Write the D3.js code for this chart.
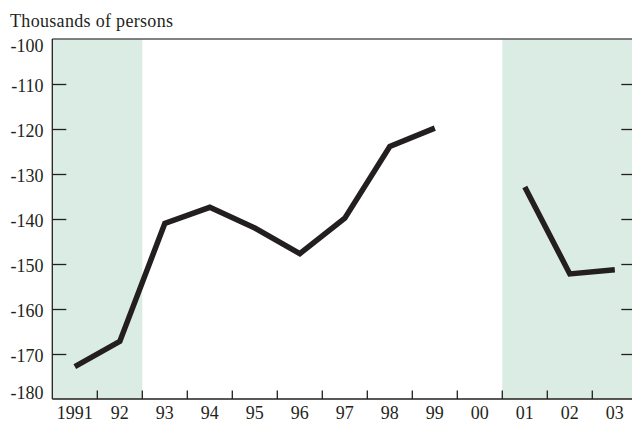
<!DOCTYPE html>
<html>
<head>
<meta charset="utf-8">
<script src="https://cdn.jsdelivr.net/npm/d3@7"></script>
<style>
  body { margin: 0; background: #fff; overflow: hidden; }
  svg { display: block; font-family: "Liberation Serif", "DejaVu Serif", serif; }
  .lbl { font-size: 18px; fill: #231f20; }
</style>
</head>
<body>
<div id="chart"></div>
<script>
// years on the x axis, and how they are labelled
const years = [1991, 1992, 1993, 1994, 1995, 1996, 1997, 1998, 1999, 2000, 2001, 2002, 2003]
const yearLabels = ['1991', '92', '93', '94', '95', '96', '97', '98', '99', '00', '01', '02', '03']
// thousands of persons, null = no value
const values = [-172.8, -167.2, -141, -137.4, -142, -147.7, -139.8, -123.9, -119.8, null, -132.9, -152.2, -151.3]
const yTicks = [-100, -110, -120, -130, -140, -150, -160, -170, -180]
// shaded periods [first year, last year]
const shaded = [[1991, 1992], [2001, 2003]]

const width = 632, height = 423
const margin = { top: 39, left: 52.3, bottom: 24 }
const bandW = 45

const svg = d3.select('#chart')
    .append('svg')
    .attr('width', width)
    .attr('height', height)

const x = d3.scaleBand()
    .domain(years)
    .range([margin.left, margin.left + bandW * years.length])
const y = d3.scaleLinear()
    .domain([-180, -100])
    .range([height - margin.bottom, margin.top])

const x0 = x.range()[0], x1 = x.range()[1]
const yTop = y(-100), yBot = y(-180)

// shaded bands
svg.append('g')
    .selectAll('rect')
    .data(shaded)
    .enter().append('rect')
    .attr('x', d => x(d[0]))
    .attr('width', d => x(d[1]) + x.bandwidth() - x(d[0]))
    .attr('y', yTop)
    .attr('height', yBot - yTop)
    .attr('fill', '#dbece5')

// top border
svg.append('line')
    .attr('x1', x0).attr('x2', width)
    .attr('y1', yTop).attr('y2', yTop)
    .attr('stroke', '#58595b')
    .attr('stroke-width', 1.6)

// left axis with inward ticks
const left = svg.append('g')
    .attr('transform', 'translate(' + x0 + ',0)')
    .call(d3.axisRight(y).tickValues(yTicks.slice(1, -1)).tickSize(14).tickFormat(''))
left.select('.domain').remove()
left.selectAll('line').attr('stroke', '#231f20').attr('stroke-width', 1.3)
svg.append('line')
    .attr('x1', x0).attr('x2', x0)
    .attr('y1', yTop).attr('y2', yBot)
    .attr('stroke', '#231f20')
    .attr('stroke-width', 1.3)

// right side ticks
const right = svg.append('g')
    .attr('transform', 'translate(' + (x1 - 1) + ',0)')
    .call(d3.axisLeft(y).tickValues(yTicks.slice(1, -1)).tickSize(15).tickFormat(''))
right.select('.domain').remove()
right.selectAll('line').attr('stroke', '#231f20').attr('stroke-width', 1.3)

// y labels (end ones pulled inward)
svg.append('g')
    .selectAll('text')
    .data(yTicks)
    .enter().append('text')
    .attr('class', 'lbl')
    .attr('x', 43.5)
    .attr('y', (d, i) => y(d) + (i === 0 ? 13 : i === yTicks.length - 1 ? -0.5 : 8))
    .attr('text-anchor', 'end')
    .text(d => '-' + Math.abs(d))

// bottom axis, ticks at year boundaries
svg.append('line')
    .attr('x1', x0).attr('x2', width)
    .attr('y1', yBot).attr('y2', yBot)
    .attr('stroke', '#231f20')
    .attr('stroke-width', 1.3)
svg.append('g')
    .selectAll('line')
    .data(years.slice(1))
    .enter().append('line')
    .attr('x1', d => x(d)).attr('x2', d => x(d))
    .attr('y1', yBot).attr('y2', yBot - 8.5)
    .attr('stroke', '#231f20')
    .attr('stroke-width', 1.3)

svg.append('g')
    .selectAll('text')
    .data(years)
    .enter().append('text')
    .attr('class', 'lbl')
    .attr('x', d => x(d) + x.bandwidth() / 2)
    .attr('y', 418.5)
    .attr('text-anchor', 'middle')
    .text((d, i) => yearLabels[i])

// the series
const line = d3.line()
    .defined(d => d.v != null)
    .x(d => x(d.year) + x.bandwidth() / 2)
    .y(d => y(d.v))

svg.append('path')
    .datum(years.map((year, i) => ({ year: year, v: values[i] })))
    .attr('d', line)
    .attr('fill', 'none')
    .attr('stroke', '#231f20')
    .attr('stroke-width', 5.5)
    .attr('stroke-linejoin', 'miter')
    .attr('stroke-linecap', 'butt')

// unit title
svg.append('text')
    .attr('class', 'lbl')
    .attr('x', 10)
    .attr('y', 27)
    .attr('textLength', 163)
    .text('Thousands of persons')
</script>
</body>
</html>
